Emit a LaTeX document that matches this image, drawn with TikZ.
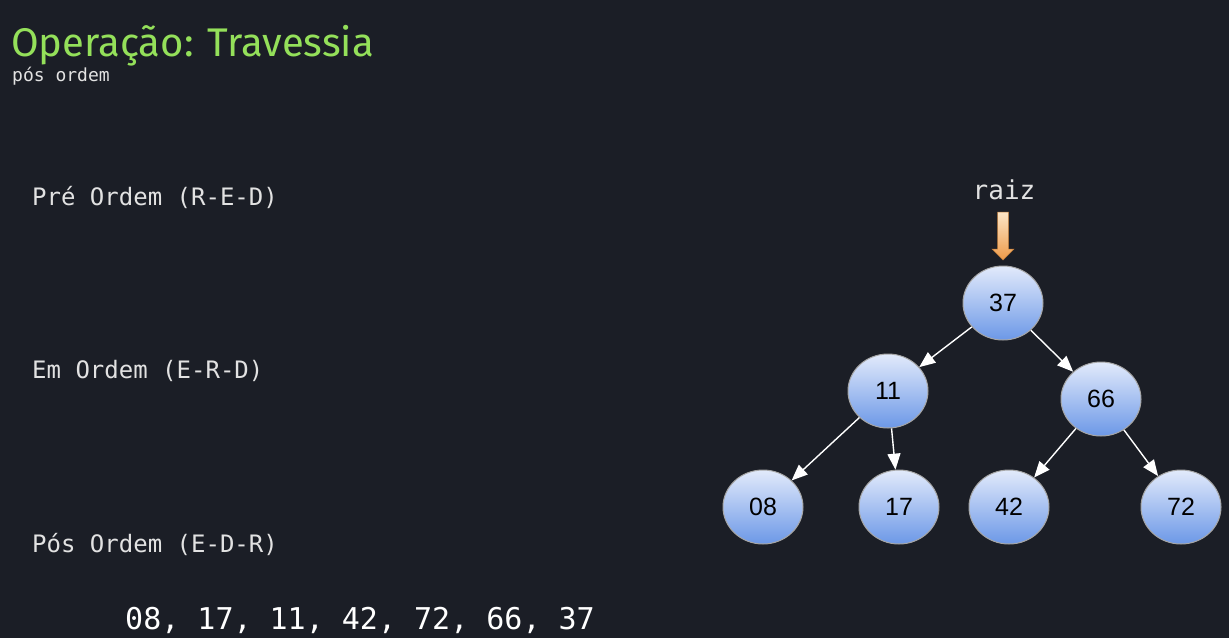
\documentclass[tikz,border=0pt]{standalone}
\usepackage{fontspec}
\usetikzlibrary{shapes.geometric,arrows.meta}
\newfontfamily\titlefont{Fira Sans}
\newfontfamily\codefont{DejaVu Sans Mono}
\newfontfamily\chavefont{Liberation Sans}
\definecolor{bgdark}{HTML}{1B1E26}
\definecolor{titlegreen}{HTML}{94E05A}
\definecolor{textgray}{HTML}{E2E2E2}
\definecolor{chavetop}{HTML}{E2EAFB}
\definecolor{chavebot}{HTML}{6C98E7}
\definecolor{raiztop}{HTML}{FCE5C6}
\definecolor{raizbot}{HTML}{EE9A48}

\begin{document}
\begin{tikzpicture}[x=1pt, y=-1pt,
  chave/.style={ellipse, draw=gray!70, line width=1pt, top color=chavetop, bottom color=chavebot,
    minimum width=80pt, minimum height=74pt, inner sep=0pt, text=black,
    font=\chavefont\fontsize{25}{25}\selectfont},
  link/.style={-{Triangle[length=16pt,width=13pt]}, white, line width=1.4pt},
  ordem/.style={anchor=base west, inner sep=0pt, text=textgray, font=\codefont\fontsize{24}{24}\selectfont}]

\fill[bgdark] (0,0) rectangle (1229,638);

% titulo
\node[anchor=base west, inner sep=0pt, text=titlegreen, font=\titlefont\fontsize{40}{40}\selectfont] (titulo) at (11,56) {Operação: Travessia};
\node[anchor=base west, inner sep=0pt, text=textgray, font=\codefont\fontsize{18}{18}\selectfont] (sub) at (12,81) {pós ordem};

% travessias
\node[ordem] (pre) at (32,205) {Pré Ordem (R-E-D)};
\node[ordem] (em) at (32,378) {Em Ordem (E-R-D)};
\node[ordem] (pos) at (32,552) {Pós Ordem (E-D-R)};
\node[ordem, text=white, font=\codefont\fontsize{30}{30}\selectfont] (seq) at (125,629) {08, 17, 11, 42, 72, 66, 37};

% arvore
\node[chave] (n37) at (1003,303) {37};
\node[chave] (n11) at (888,391) {11};
\node[chave] (n66) at (1101,399) {66};
\node[chave] (n08) at (763,507) {08};
\node[chave] (n17) at (899,507) {17};
\node[chave] (n42) at (1009,507) {42};
\node[chave] (n72) at (1181,507) {72};

\draw[link] (n37) -- (n11);
\draw[link] (n37) -- (n66);
\draw[link] (n11) -- (n08);
\draw[link] (n11) -- (n17);
\draw[link] (n66) -- (n42);
\draw[link] (n66) -- (n72);

% raiz
\node[anchor=base, inner sep=0pt, text=textgray, font=\codefont\fontsize{26}{26}\selectfont] (raiz) at (1004,199) {raiz};
\coordinate (raizpta) at (1003,260);
\shade[top color=raiztop, bottom color=raizbot, draw=raizbot!80!black, line width=0.5pt]
  (raizpta) -- ++(-11,-11) -- ++(5.5,0) -- ++(0,-37) -- ++(11,0) -- ++(0,37) -- ++(5.5,0) -- cycle;

\end{tikzpicture}
\end{document}
